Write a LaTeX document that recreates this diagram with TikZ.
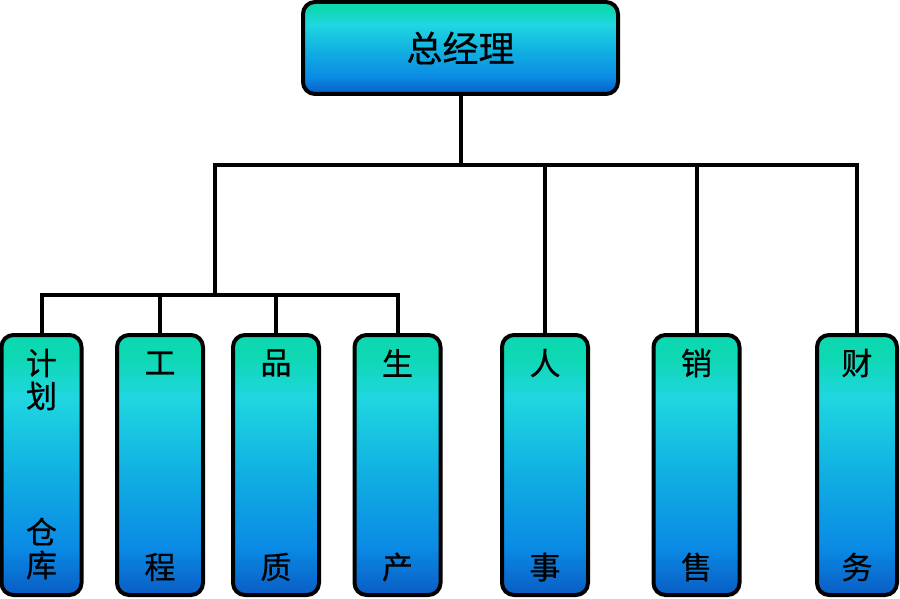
\documentclass[tikz,border=0pt]{standalone}
\usepackage{fontspec}
\setmainfont{Noto Sans CJK SC}
\newfontfamily\deptfont{Noto Sans CJK SC}[FakeBold=0.6]
\usetikzlibrary{positioning, calc}
\definecolor{GradTop}{HTML}{0ED8B2}
\definecolor{GradCyan}{HTML}{20D6E0}
\definecolor{GradMid}{HTML}{12B4E2}
\definecolor{GradBlue}{HTML}{0A8AE4}
\definecolor{GradBottom}{HTML}{0A5CC4}
\pgfdeclareverticalshading{deptgrad}{100bp}{%
    color(0bp)=(GradBottom); color(25bp)=(GradBottom);
    color(34bp)=(GradBlue); color(50bp)=(GradMid);
    color(63bp)=(GradCyan); color(71bp)=(GradTop);
    color(100bp)=(GradTop)}

\begin{document}
\begin{tikzpicture}[
    x=1pt, y=-1pt,
    chief/.style={
        rectangle, rounded corners=12pt, minimum width=315pt,
        minimum height=92pt, draw=black, line width=4pt,
        shading=deptgrad, font=\deptfont\fontsize{36}{40}\selectfont
    },
    dept/.style={
        rectangle, rounded corners=12pt, minimum width=86pt,
        minimum height=260pt, draw=black, line width=4pt,
        shading=deptgrad
    },
    lab/.style={font=\deptfont\fontsize{31}{33}\selectfont, align=center,
                inner sep=0pt},
    link/.style={line width=4pt, black}
]
\useasboundingbox (0,0) rectangle (900,599);

% ===================================================================
% BOXES
% ===================================================================
\node[chief] (gm) at (460.5,48) {总经理};

\node[dept, minimum width=80pt] (plan) at (41.5,465) {};
\node[dept] (eng)   at (160,465)   {};
\node[dept] (qual)  at (276,465)   {};
\node[dept] (prod)  at (397.5,465) {};
\node[dept] (hr)    at (545,465)   {};
\node[dept] (sales) at (696.5,465) {};
\node[dept, minimum width=80pt] (fin) at (857,465) {};

% ===================================================================
% LABELS
% ===================================================================
\node[lab] at ([yshift=-46.5pt]plan.north) {计\\划};
\node[lab] at ([yshift=48.5pt]plan.south)  {仓\\库};
\foreach \b/\t/\s in {eng/工/程, qual/品/质, prod/生/产,
                      hr/人/事, sales/销/售, fin/财/务} {
    \node[lab] at ([yshift=-30pt]\b.north) {\t};
    \node[lab] at ([yshift=30pt]\b.south)  {\s};
}

% ===================================================================
% CONNECTORS
% ===================================================================
\coordinate (hub) at (460.5,165);
\coordinate (split) at (215,295);
\draw[link] (gm.south) -- (hub);
\draw[link] (hub) -| (split);
\foreach \b in {hr, sales, fin} {
    \draw[link] (hub) -| (\b.north);
}
\foreach \b in {plan, eng, qual, prod} {
    \draw[link] (split) -| (\b.north);
}

\end{tikzpicture}
\end{document}
